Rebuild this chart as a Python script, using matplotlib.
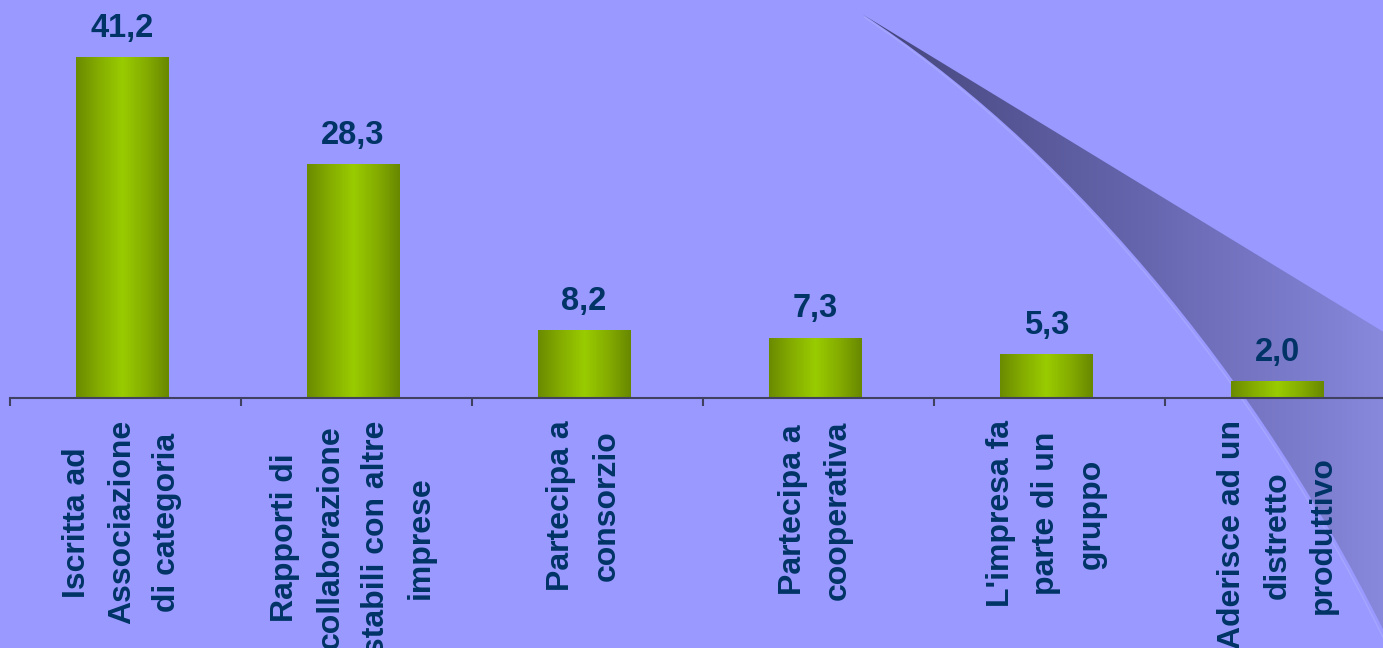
import numpy as np
import matplotlib
matplotlib.use("Agg")
import matplotlib.pyplot as plt
from matplotlib.path import Path
from matplotlib.patches import PathPatch
from matplotlib.colors import LinearSegmentedColormap

categories = [
    "Iscritta ad\nAssociazione\ndi categoria",
    "Rapporti di\ncollaborazione\nstabili con altre\nimprese",
    "Partecipa a\nconsorzio",
    "Partecipa a\ncooperativa",
    "L'impresa fa\nparte di un\ngruppo",
    "Aderisce ad un\ndistretto\nproduttivo",
]
values = [41.2, 28.3, 8.2, 7.3, 5.3, 2.0]
value_labels = ["41,2", "28,3", "8,2", "7,3", "5,3", "2,0"]

BG = "#9999FF"
TXT = "#003366"
AXC = "#404060"
W, H = 1383, 648

plt.rcParams['font.family'] = ['Liberation Sans', 'DejaVu Sans']

fig = plt.figure(figsize=(W / 100, H / 100), dpi=100, facecolor=BG)

# decorative swoosh background (pixel coordinates)
bg = fig.add_axes([0, 0, 1, 1], zorder=0)
bg.set_xlim(0, W)
bg.set_ylim(H, 0)
bg.axis('off')
bg.patch.set_alpha(0)
verts = [(862, 14), (1050, 135), (1258, 365), (1398, 660),
         (1400, 660), (1400, 342), (862, 14)]
codes = [Path.MOVETO, Path.CURVE4, Path.CURVE4, Path.CURVE4,
         Path.LINETO, Path.LINETO, Path.CLOSEPOLY]
sw = PathPatch(Path(verts, codes), facecolor='none', edgecolor='none')
bg.add_patch(sw)
swcmap = LinearSegmentedColormap.from_list('sw', ['#44447A', '#6464AC', '#8A8AE0'])
grad = np.linspace(0, 1, 256).reshape(1, -1)
im = bg.imshow(grad, cmap=swcmap, extent=(862, 1400, H, 0), aspect='auto', zorder=1)
im.set_clip_path(sw)
hl = Path([(864, 17), (1050, 139), (1256, 369), (1396, 664)],
          [Path.MOVETO, Path.CURVE4, Path.CURVE4, Path.CURVE4])
bg.add_patch(PathPatch(hl, facecolor='none', edgecolor='#A6A6FF', lw=1.0, zorder=2))

# main chart
n = len(values)
left = 10 / W
ax = fig.add_axes([left, 250 / H, 6 * 231.1 / W, 398 / H], zorder=1)
ax.patch.set_alpha(0)
pos = np.arange(n)
ax.set_xlim(-0.484, n - 0.484)
ax.set_ylim(0, 48.1)

bars = ax.bar(pos, values, width=0.4, color='none', edgecolor='none')
barcmap = LinearSegmentedColormap.from_list(
    'bar', ['#6A8A00', '#85AD00', '#99CC00', '#85AD00', '#688800'])
for b in bars:
    x0, y0 = b.get_x(), b.get_y()
    bw, bh = b.get_width(), b.get_height()
    bi = ax.imshow(grad, cmap=barcmap, extent=(x0, x0 + bw, y0, y0 + bh),
                   aspect='auto', zorder=2)
    bi.set_clip_path(b)

for p, v, lab in zip(pos, values, value_labels):
    ax.annotate(lab, (p, v), xytext=(0, 14.5), textcoords='offset points',
                ha='center', va='baseline', fontsize=23.5, fontweight='bold',
                color=TXT)

for s in ['top', 'left', 'right']:
    ax.spines[s].set_visible(False)
ax.spines['bottom'].set_color(AXC)
ax.spines['bottom'].set_linewidth(1.5)
ax.set_yticks([])
ax.set_xticks(pos)
ax.set_xticklabels(categories, rotation=90, ha='center', va='top',
                   multialignment='center', fontsize=23, fontweight='bold',
                   color=TXT, linespacing=1.66)
ax.tick_params(axis='x', which='major', length=0, pad=16)
ax.set_xticks(np.arange(n + 1) - 0.484, minor=True)
ax.tick_params(axis='x', which='minor', length=6, width=1.5, color=AXC,
               direction='out')

fig.savefig('out.png', dpi=100, facecolor=BG)
